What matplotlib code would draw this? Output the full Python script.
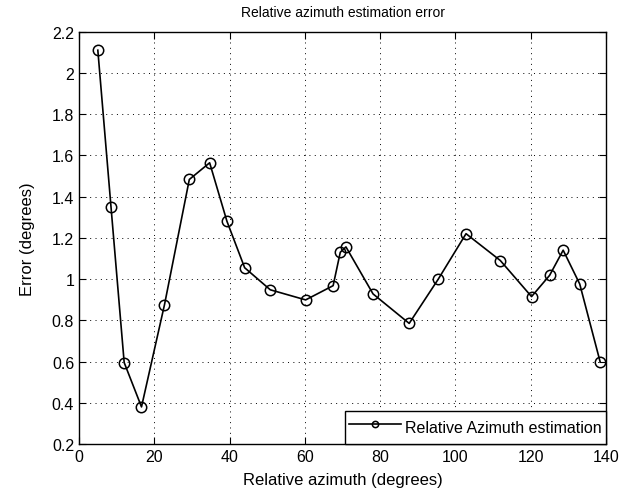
import matplotlib
matplotlib.use("Agg")
import matplotlib.pyplot as plt

plt.rcParams['font.family'] = ['Liberation Sans', 'DejaVu Sans']

azimuth = [5.0, 8.5, 12.0, 16.6, 22.7, 29.3, 34.7, 39.3, 44.0, 50.8, 60.2, 67.5,
           69.4, 70.9, 78.1, 87.7, 95.4, 102.8, 111.9, 120.2, 125.0, 128.6, 133.0, 138.4]
error = [2.11, 1.35, 0.595, 0.38, 0.875, 1.483, 1.564, 1.28, 1.055, 0.948, 0.899, 0.968,
         1.13, 1.156, 0.928, 0.785, 0.999, 1.22, 1.09, 0.915, 1.018, 1.14, 0.976, 0.6]
xticks = [0, 20, 40, 60, 80, 100, 120, 140]
yticks = [0.2, 0.4, 0.6, 0.8, 1.0, 1.2, 1.4, 1.6, 1.8, 2.0, 2.2]
ytick_labels = ['0.2', '0.4', '0.6', '0.8', '1', '1.2', '1.4', '1.6', '1.8', '2', '2.2']

fig = plt.figure(figsize=(6.32, 5.02), dpi=100)
ax = fig.add_axes([0.125, 0.1135, 0.834, 0.8215])

ax.plot(azimuth, error, color='black', linewidth=1.2, marker='o', markersize=7.5,
        markerfacecolor='none', markeredgecolor='black', markeredgewidth=1.1,
        label='Relative Azimuth estimation')

ax.set_xlim(0, 140)
ax.set_ylim(0.2, 2.2)
ax.set_xticks(xticks)
ax.set_xticklabels([str(t) for t in xticks])
ax.set_yticks(yticks)
ax.set_yticklabels(ytick_labels)
ax.tick_params(direction='in', top=True, right=True, labelsize=11.5, length=5, width=0.8)
ax.grid(True, color='black', linestyle=(0, (1, 4.5)), linewidth=0.7)
for s in ax.spines.values():
    s.set_linewidth(1.0)

ax.set_title('Relative azimuth estimation error', fontsize=10, pad=11)
ax.set_xlabel('Relative azimuth (degrees)', fontsize=12, labelpad=6)
ax.set_ylabel('Error (degrees)', fontsize=12, labelpad=12)

leg = ax.legend(loc='lower right', borderaxespad=0, fancybox=False, framealpha=1,
                edgecolor='black', fontsize=11.5, handlelength=3.25, borderpad=0.25,
                handleheight=2.05, handletextpad=0.3, markerscale=0.6)
leg.get_frame().set_linewidth(1.0)

fig.savefig('out.png', dpi=100)
